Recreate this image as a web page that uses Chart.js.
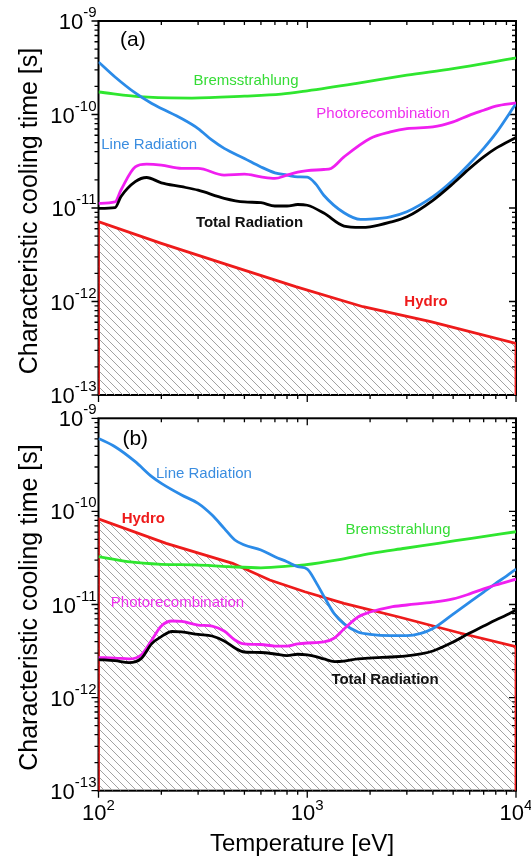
<!DOCTYPE html>
<html>
<head>
<meta charset="utf-8">
<script src="https://cdn.jsdelivr.net/npm/chart.js@4.4.1/dist/chart.umd.min.js"></script>
<style>
  body { margin: 0; background: #fff; }
  #wrap { position: relative; width: 531px; height: 863px; }
  canvas { position: absolute; left: 0; }
  #chartA { top: 0; }
  #chartB { top: 398px; }
</style>
</head>
<body>
<div id="wrap">
  <canvas id="chartA" width="531" height="410"></canvas>
  <canvas id="chartB" width="531" height="465"></canvas>
</div>
<script>
// ---- data (temperature in eV, time in s) ----

// panel (a)
const aBremsT = [100, 165, 280, 500, 750, 1000, 1700, 3000, 5000, 10000];
const aBrems = [1.74e-10, 1.54e-10, 1.50e-10, 1.57e-10, 1.65e-10, 1.79e-10, 2.14e-10, 2.63e-10, 3.10e-10, 4.03e-10];

const aLineT = [100, 120, 150, 180, 200, 250, 300, 350, 400, 500, 600, 700, 800, 900, 1000, 1100, 1200, 1500, 1800, 2000, 2500, 3000, 4000, 5000, 6000, 7000, 8000, 10000];
const aLine = [3.65e-10, 2.52e-10, 1.70e-10, 1.31e-10, 1.16e-10, 9.06e-11, 7.08e-11, 5.31e-11, 4.34e-11, 3.39e-11, 2.75e-11, 2.38e-11, 2.25e-11, 2.15e-11, 2.14e-11, 1.80e-11, 1.37e-11, 8.89e-12, 7.55e-12, 7.60e-12, 8.05e-12, 9.10e-12, 1.32e-11, 1.99e-11, 2.99e-11, 4.34e-11, 6.27e-11, 1.31e-10];

const aPhotoT = [100, 120, 128, 150, 170, 200, 250, 300, 400, 500, 600, 700, 800, 900, 1000, 1200, 1300, 1500, 2000, 2500, 3000, 4000, 5000, 6000, 7000, 8000, 10000];
const aPhoto = [1.12e-11, 1.16e-11, 1.55e-11, 2.75e-11, 2.94e-11, 2.87e-11, 2.65e-11, 2.65e-11, 2.25e-11, 2.30e-11, 2.15e-11, 2.07e-11, 2.25e-11, 2.42e-11, 2.51e-11, 2.58e-11, 2.65e-11, 3.52e-11, 5.55e-11, 6.52e-11, 7.08e-11, 7.36e-11, 8.33e-11, 9.84e-11, 1.11e-10, 1.23e-10, 1.33e-10];

const aTotalT = [100, 120, 128, 150, 170, 200, 250, 300, 400, 500, 600, 700, 800, 900, 1000, 1200, 1500, 1800, 2000, 2500, 3000, 4000, 5000, 6000, 7000, 8000, 10000];
const aTotal = [9.9e-12, 1.01e-11, 1.32e-11, 1.91e-11, 2.12e-11, 1.86e-11, 1.69e-11, 1.55e-11, 1.27e-11, 1.16e-11, 1.14e-11, 1.05e-11, 1.05e-11, 1.09e-11, 1.07e-11, 8.83e-12, 6.41e-12, 6.21e-12, 6.30e-12, 7.06e-12, 8.05e-12, 1.21e-11, 1.83e-11, 2.65e-11, 3.52e-11, 4.34e-11, 5.68e-11];

// hydro boundary, closed down to the axis at both ends
const aHydroT = [100, 100, 200, 420, 880, 1850, 3900, 10000, 10000];
const aHydro = [1e-13, 7.13e-12, 4.19e-12, 2.45e-12, 1.44e-12, 8.79e-13, 6.08e-13, 3.57e-13, 1e-13];

// panel (b)
const bBremsT = [100, 138, 200, 290, 420, 600, 870, 970, 1400, 2030, 2940, 4240, 6130, 10000];
const bBrems = [3.26e-11, 2.88e-11, 2.70e-11, 2.66e-11, 2.55e-11, 2.48e-11, 2.61e-11, 2.66e-11, 3.01e-11, 3.55e-11, 4.02e-11, 4.54e-11, 5.14e-11, 6.05e-11];

const bLineT = [100, 120, 150, 180, 200, 250, 300, 350, 400, 450, 500, 600, 700, 800, 900, 1000, 1100, 1200, 1350, 1500, 1750, 2000, 2500, 3000, 3500, 4000, 5000, 6000, 7000, 8000, 9000, 10000];
const bLine = [6.07e-10, 4.95e-10, 3.42e-10, 2.36e-10, 2.00e-10, 1.50e-10, 1.22e-10, 9.14e-11, 6.58e-11, 4.93e-11, 4.36e-11, 3.85e-11, 3.26e-11, 2.88e-11, 2.55e-11, 2.40e-11, 1.74e-11, 1.23e-11, 7.90e-12, 6.18e-12, 5.07e-12, 4.77e-12, 4.62e-12, 4.62e-12, 4.89e-12, 5.52e-12, 7.90e-12, 1.06e-11, 1.36e-11, 1.69e-11, 2.02e-11, 2.40e-11];

const bPhotoT = [100, 120, 140, 160, 180, 200, 225, 250, 300, 350, 400, 450, 500, 600, 700, 800, 900, 1000, 1200, 1350, 1500, 1750, 2000, 2500, 3000, 4000, 5000, 6000, 7000, 8000, 10000];
const bPhoto = [2.69e-12, 2.66e-12, 2.60e-12, 2.87e-12, 4.16e-12, 5.87e-12, 6.65e-12, 6.57e-12, 6.02e-12, 5.87e-12, 5.19e-12, 4.16e-12, 3.77e-12, 3.72e-12, 3.58e-12, 3.58e-12, 3.77e-12, 3.86e-12, 3.96e-12, 4.37e-12, 5.45e-12, 7.34e-12, 8.30e-12, 9.40e-12, 9.88e-12, 1.06e-11, 1.15e-11, 1.30e-11, 1.47e-11, 1.62e-11, 1.87e-11];

const bTotalT = [100, 120, 140, 160, 180, 200, 225, 250, 300, 350, 400, 450, 500, 600, 700, 800, 900, 1000, 1100, 1200, 1350, 1500, 1750, 2000, 2500, 3000, 3500, 4000, 5000, 6000, 7000, 8000, 9000, 10000];
const bTotal = [2.56e-12, 2.49e-12, 2.37e-12, 2.62e-12, 3.80e-12, 4.52e-12, 5.13e-12, 5.07e-12, 4.77e-12, 4.59e-12, 4.06e-12, 3.41e-12, 3.09e-12, 3.05e-12, 2.94e-12, 2.83e-12, 2.92e-12, 2.87e-12, 2.76e-12, 2.60e-12, 2.44e-12, 2.47e-12, 2.60e-12, 2.66e-12, 2.73e-12, 2.80e-12, 2.94e-12, 3.17e-12, 3.96e-12, 4.94e-12, 5.87e-12, 6.82e-12, 7.71e-12, 8.73e-12];

const bHydroT = [100, 100, 211, 439, 661, 973, 1500, 2750, 5450, 10000, 10000];
const bHydro = [1e-13, 8.28e-11, 4.54e-11, 2.77e-11, 1.83e-11, 1.37e-11, 1.03e-11, 7.34e-12, 4.91e-12, 3.52e-12, 1e-13];

// axis ticks
const xTicks = [1e2, 1e3, 1e4];
const xTickExp = ['2', '3', '4'];
const yTicks = [1e-9, 1e-10, 1e-11, 1e-12, 1e-13];
const yTickExp = ['-9', '-10', '-11', '-12', '-13'];

const FONT = '"Liberation Sans", Arial, Helvetica, sans-serif';
const GREEN = '#2fe62f';
const BLUE = '#2b8be8';
const MAGENTA = '#f01ff0';
const RED = '#ee1b1b';

function pts(T, v) {
  return T.map((t, i) => ({ x: t, y: v[i] }));
}

// diagonal hatch for the region under the hydro curve
function hatchPattern() {
  const s = 8;
  const c = document.createElement('canvas');
  c.width = s; c.height = s;
  const g = c.getContext('2d');
  g.strokeStyle = '#a2a2a2';
  g.lineWidth = 1;
  g.beginPath();
  g.moveTo(0, 0); g.lineTo(s, s);
  g.moveTo(-1, s - 1); g.lineTo(1, s + 1);
  g.moveTo(s - 1, -1); g.lineTo(s + 1, 1);
  g.stroke();
  return g.createPattern(c, 'repeat');
}

function curve(T, v, color) {
  return {
    data: pts(T, v),
    borderColor: color,
    borderWidth: 2.8,
    pointRadius: 0,
    fill: false,
    cubicInterpolationMode: 'monotone'
  };
}

// frame, mirrored log ticks, tick labels, titles and curve labels
const framePlugin = {
  id: 'frame',
  beforeDatasetsDraw(chart) {
    const { ctx, chartArea: a, scales: { x, y } } = chart;
    ctx.save();
    ctx.strokeStyle = '#000';
    ctx.lineWidth = 1.3;
    ctx.beginPath();
    for (let e = 2; e <= 4; e++) {
      for (let m = 1; m <= 9; m++) {
        const v = m * Math.pow(10, e);
        if (v > 1e4) break;
        const px = x.getPixelForValue(v);
        const len = m === 1 ? 7 : 4;
        ctx.moveTo(px, a.bottom); ctx.lineTo(px, a.bottom + len);
        ctx.moveTo(px, a.top); ctx.lineTo(px, a.top + len);
      }
    }
    for (let e = -13; e <= -9; e++) {
      for (let m = 1; m <= 9; m++) {
        const v = m * Math.pow(10, e);
        if (v > 1.0001e-9) break;
        const py = y.getPixelForValue(v);
        const len = m === 1 ? 7 : 4;
        ctx.moveTo(a.left - len, py); ctx.lineTo(a.left, py);
        ctx.moveTo(a.right - len, py); ctx.lineTo(a.right, py);
      }
    }
    ctx.stroke();
    ctx.lineWidth = 2;
    ctx.strokeRect(a.left, a.top, a.right - a.left, a.bottom - a.top);
    ctx.restore();
  },
  afterDatasetsDraw(chart, args, opts) {
    const { ctx, chartArea: a, scales: { x, y } } = chart;
    ctx.save();
    ctx.fillStyle = '#000';
    ctx.textAlign = 'left';
    ctx.textBaseline = 'alphabetic';

    // y tick labels 10^n
    yTicks.forEach((v, i) => {
      const py = y.getPixelForValue(v);
      ctx.font = '15px ' + FONT;
      const ew = ctx.measureText(yTickExp[i]).width;
      ctx.font = '22px ' + FONT;
      const bw = ctx.measureText('10').width;
      const right = a.left - 2;
      ctx.fillText('10', right - ew - bw, py + 8);
      ctx.font = '15px ' + FONT;
      ctx.fillText(yTickExp[i], right - ew, py - 4);
    });

    if (opts.xLabels) {
      xTicks.forEach((v, i) => {
        const px = x.getPixelForValue(v);
        ctx.font = '15px ' + FONT;
        const ew = ctx.measureText(xTickExp[i]).width;
        ctx.font = '22px ' + FONT;
        const bw = ctx.measureText('10').width;
        const left = px - (bw + ew) / 2;
        ctx.fillText('10', left, a.bottom + 29.5);
        ctx.font = '15px ' + FONT;
        ctx.fillText(xTickExp[i], left + bw, a.bottom + 19.5);
      });
      ctx.font = '24px ' + FONT;
      ctx.textAlign = 'center';
      ctx.fillText('Temperature [eV]', 302, a.bottom + 60);
    }

    // y axis title
    ctx.save();
    ctx.translate(a.left - 61.5, (a.top + a.bottom) / 2 + 3);
    ctx.rotate(-Math.PI / 2);
    ctx.font = '25px ' + FONT;
    ctx.textAlign = 'center';
    ctx.fillText('Characteristic cooling time [s]', 0, 0);
    ctx.restore();

    // curve labels placed in data coordinates
    ctx.textAlign = 'center';
    ctx.textBaseline = 'middle';
    opts.labels.forEach(l => {
      ctx.font = (l.bold ? 'bold ' : '') + (l.size || 15) + 'px ' + FONT;
      ctx.fillStyle = l.color;
      ctx.fillText(l.text, x.getPixelForValue(l.t), y.getPixelForValue(l.v));
    });
    ctx.restore();
  }
};

function makeChart(id, sets, pad, opts) {
  const hatch = hatchPattern();
  new Chart(document.getElementById(id), {
    type: 'line',
    data: {
      datasets: [
        curve(sets.totalT, sets.total, '#000'),
        curve(sets.photoT, sets.photo, MAGENTA),
        curve(sets.lineT, sets.line, BLUE),
        curve(sets.bremsT, sets.brems, GREEN),
        {
          data: pts(sets.hydroT, sets.hydro),
          borderColor: RED,
          borderWidth: 2.8,
          pointRadius: 0,
          tension: 0,
          fill: 'start',
          backgroundColor: hatch
        }
      ]
    },
    options: {
      responsive: false,
      animation: false,
      layout: { padding: pad },
      scales: {
        x: { type: 'logarithmic', min: 100, max: 10000, display: false },
        y: { type: 'logarithmic', min: 1e-13, max: 1e-9, display: false }
      },
      plugins: {
        legend: { display: false },
        tooltip: { enabled: false },
        frame: opts
      }
    },
    plugins: [framePlugin]
  });
}

makeChart('chartA', {
  totalT: aTotalT, total: aTotal, photoT: aPhotoT, photo: aPhoto,
  lineT: aLineT, line: aLine, bremsT: aBremsT, brems: aBrems,
  hydroT: aHydroT, hydro: aHydro
}, { left: 98.5, right: 15, top: 21, bottom: 15 }, {
  xLabels: false,
  labels: [
    { text: '(a)', t: 146, v: 6.3e-10, color: '#000', size: 21 },
    { text: 'Bremsstrahlung', t: 509, v: 2.28e-10, color: '#35dc35' },
    { text: 'Line Radiation', t: 175, v: 4.72e-11, color: '#3a8de0' },
    { text: 'Photorecombination', t: 2307, v: 1.01e-10, color: '#ee30ee' },
    { text: 'Total Radiation', t: 529, v: 7.0e-12, color: '#111', bold: true },
    { text: 'Hydro', t: 3706, v: 9.9e-13, color: RED, bold: true }
  ]
});

makeChart('chartB', {
  totalT: bTotalT, total: bTotal, photoT: bPhotoT, photo: bPhoto,
  lineT: bLineT, line: bLine, bremsT: bBremsT, brems: bBrems,
  hydroT: bHydroT, hydro: bHydro
}, { left: 98.5, right: 15, top: 20.3, bottom: 72.3 }, {
  xLabels: true,
  labels: [
    { text: '(b)', t: 150, v: 6.0e-10, color: '#000', size: 21 },
    { text: 'Line Radiation', t: 320, v: 2.55e-10, color: '#3a8de0' },
    { text: 'Hydro', t: 164, v: 8.4e-11, color: RED, bold: true },
    { text: 'Bremsstrahlung', t: 2720, v: 6.3e-11, color: '#35dc35' },
    { text: 'Photorecombination', t: 239, v: 1.03e-11, color: '#ee30ee' },
    { text: 'Total Radiation', t: 2358, v: 1.55e-12, color: '#111', bold: true }
  ]
});
</script>
</body>
</html>
